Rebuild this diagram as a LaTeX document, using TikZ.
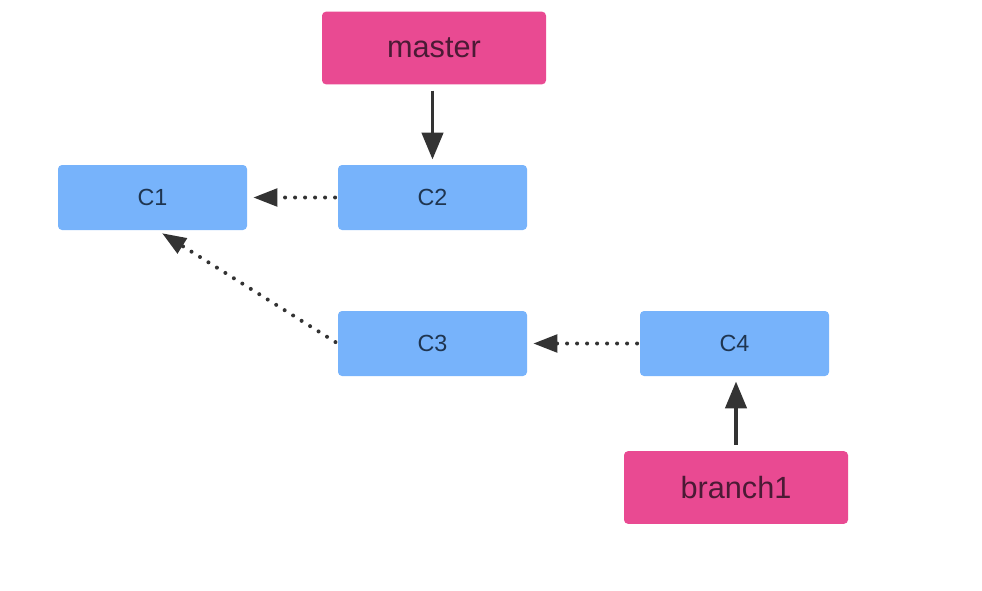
\documentclass[tikz,border=0pt]{standalone}
\usepackage{fontspec}
\setmainfont{Liberation Sans}
\usetikzlibrary{arrows.meta}
\definecolor{pinkbox}{HTML}{E94A92}
\definecolor{bluebox}{HTML}{77B3FB}
\definecolor{pinktext}{HTML}{4B1A35}
\definecolor{bluetext}{HTML}{1F3550}
\definecolor{arrowcol}{HTML}{333333}
\tikzset{
  refbox/.style={fill=pinkbox, draw=none, rounded corners=3pt, minimum width=168pt, minimum height=54.5pt,
    text=pinktext, font=\fontsize{23pt}{27pt}\selectfont, inner sep=0pt},
  commitbox/.style={fill=bluebox, draw=none, rounded corners=3pt, minimum width=141.75pt, minimum height=48.75pt,
    text=bluetext, font=\fontsize{17.5pt}{21pt}\selectfont, inner sep=0pt},
  solidarrow/.style={draw=arrowcol, line width=2.3pt, -{Triangle[length=20pt,width=16pt]}, shorten >=4pt, shorten <=4.5pt},
  dotarrow/.style={draw=arrowcol, line width=3pt, line cap=round, dash pattern=on 0pt off 7.5pt,
    -{Triangle[length=18pt,width=13pt,line cap=butt]}, shorten >=4.5pt, shorten <=2pt},
}
\begin{document}
\begin{tikzpicture}[x=0.75pt,y=-0.75pt]
\useasboundingbox (0,0) rectangle (982,590);
\node[refbox] (master) at (434,48) {master};
\node[commitbox] (c1) at (152.5,197.5) {C1};
\node[commitbox] (c2) at (432.5,197.5) {C2};
\node[commitbox] (c3) at (432.5,343.5) {C3};
\node[commitbox] (c4) at (734.5,343.5) {C4};
\node[refbox] (branch1) at (736,487.5) {branch1};
\coordinate (c1s) at (157,230);
\draw[solidarrow] (master.south -| c2.north) -- (c2.north);
\draw[solidarrow] (branch1.north) -- (branch1.north |- c4.south);
\draw[dotarrow] (c2.west) -- (c1.east);
\draw[dotarrow] (c4.west) -- (c3.east);
\draw[dotarrow] (c3.west) -- (c1s);
\end{tikzpicture}
\end{document}
